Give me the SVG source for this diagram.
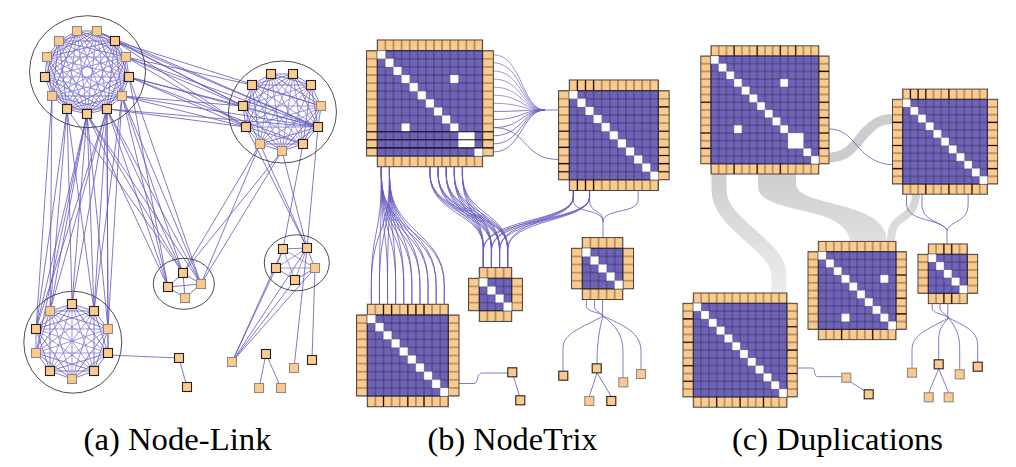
<svg xmlns="http://www.w3.org/2000/svg" width="1016" height="467" viewBox="0 0 1016 467">
<defs>
<style>
.e{fill:none;stroke:#6459bd;stroke-width:.9;stroke-opacity:.9}
.el{fill:none;stroke:#8b84cf;stroke-width:.85}
.ring{fill:none;stroke:#3a3a3a;stroke-width:.9}
.nd{fill:#fdca8d;stroke:#222;stroke-width:1.1}
.ng{fill:#fdca8d;stroke:#8a8a8a;stroke-width:1.1}
.oh{fill:url(#poh);stroke:#4a423a;stroke-width:1}
.ov{fill:url(#pov);stroke:#4a423a;stroke-width:1}
.p{fill:url(#pp);stroke:#2a2838;stroke-width:1}
.w{fill:#fff;stroke:#b8b8c8;stroke-width:.5}
.k{fill:none;stroke:#111;stroke-width:1.1}
.band{fill:none;stroke:url(#gb)}
.bandf{fill:url(#gb)}
.lbl{font-family:'Liberation Serif','Tinos','Times New Roman','DejaVu Serif',serif;font-size:32.5px;fill:#000;text-anchor:middle}
</style>
<pattern id="pp" width="8" height="8" patternUnits="userSpaceOnUse"><rect width="8" height="8" fill="#6f63b9"/><path d="M0,0H8M0,8H8M0,0V8M8,0V8" fill="none" stroke="#39345c" stroke-width=".8"/></pattern>
<pattern id="poh" width="8" height="8" patternUnits="userSpaceOnUse"><rect width="8" height="8" fill="#fdca8d"/><path d="M0,0V8M8,0V8" fill="none" stroke="#6e604f" stroke-width="1"/></pattern>
<pattern id="pov" width="8" height="8" patternUnits="userSpaceOnUse"><rect width="8" height="8" fill="#fdca8d"/><path d="M0,0H8M0,8H8" fill="none" stroke="#6e604f" stroke-width="1"/></pattern>
<linearGradient id="gb" gradientUnits="userSpaceOnUse" x1="0" y1="170" x2="0" y2="300"><stop offset="0" stop-color="#cdcdcd"/><stop offset="1" stop-color="#efefef"/></linearGradient>
</defs>
<rect width="1016" height="467" fill="#fff"/>

<g id="connectors">
<path class="band" stroke-width="15" d="M719,172V190C719,225 779,245 779,275V295"/>
<path class="bandf" d="M758,172H796V183C796,195 815,199 835,204C870,213 887,222 887,243H850C850,230 840,222 820,215C785,206 758,202 758,187Z"/>
<path class="band" stroke-width="10" d="M829,157.5C852,157.5 858,138 868,130C876,122 882,119 893,119"/>
<path class="band" stroke-width="8" d="M916,193C916,212 905,215 897,222C892,227 891,233 891,243"/>

<polygon class="e" points="77,31 97,31 115,41 126,57 129,77 122,96 107,109 87,114 67,109 52,96 45,77 47,57 59,41"/>
<polygon class="e" points="77,31 115,41 129,77 107,109 67,109 45,77 59,41 97,31 126,57 122,96 87,114 52,96 47,57"/>
<polygon class="e" points="77,31 126,57 107,109 52,96 59,41 115,41 122,96 67,109 47,57 97,31 129,77 87,114 45,77"/>
<polygon class="e" points="77,31 129,77 67,109 59,41 126,57 87,114 47,57 115,41 107,109 45,77 97,31 122,96 52,96"/>
<polygon class="el" points="77,31 122,96 45,77 115,41 87,114 59,41 129,77 52,96 97,31 107,109 47,57 126,57 67,109"/>
<polygon class="el" points="77,31 107,109 59,41 122,96 47,57 129,77 45,77 126,57 52,96 115,41 67,109 97,31 87,114"/>

<polygon class="e" points="271,74 293,74 311,85 321,106 318,127 303,144 282,151 260,144 246,127 243,106 252,85"/>
<polygon class="e" points="271,74 311,85 318,127 282,151 246,127 252,85 293,74 321,106 303,144 260,144 243,106"/>
<polygon class="e" points="271,74 321,106 282,151 243,106 293,74 318,127 260,144 252,85 311,85 303,144 246,127"/>
<polygon class="el" points="271,74 318,127 246,127 293,74 303,144 243,106 311,85 282,151 252,85 321,106 260,144"/>
<polygon class="el" points="271,74 303,144 252,85 318,127 243,106 321,106 246,127 311,85 260,144 293,74 282,151"/>

<polygon class="e" points="72,304 94,311 108,329 108,353 94,371 72,379 50,371 36,353 36,329 50,311"/>
<polygon class="e" points="72,304 108,353 50,371 50,311 108,329 72,379 36,329 94,311 94,371 36,353"/>
<polygon class="e" points="72,304 108,329 94,371 50,371 36,329"/>
<polygon class="e" points="94,311 108,353 72,379 36,353 50,311"/>
<polygon class="el" points="72,304 94,371 36,329 108,329 50,371"/>
<polygon class="el" points="94,311 72,379 50,311 108,353 36,353"/>
<path class="el" d="M72,304L72,379M94,311L50,371M108,329L36,353M108,353L36,329M94,371L50,311"/>

<polygon class="e" points="183,273 201,284 185,298 168,287"/>
<path class="e" d="M183,273L185,298M201,284L168,287"/>
<polygon class="e" points="283,249 307,248 315,268 295,280 276,268"/>
<polygon class="el" points="283,249 315,268 276,268 307,248 295,280"/>

<path class="e" d="M115,41L243,106M115,41L318,127M115,41L246,127M115,41L321,106M126,57L243,106M126,57L318,127M126,57L246,127M126,57L252,85M129,77L243,106M129,77L318,127M129,77L246,127M129,77L303,144M122,96L243,106M122,96L318,127M122,96L246,127M107,109L318,127M107,109L246,127M97,31L243,106M97,31L318,127"/>
<path class="e" d="M87,114L72,304M87,114L50,311M87,114L94,311M87,114L36,329M87,114L108,329M87,114L36,353M107,109L72,304M107,109L50,311M107,109L94,311M107,109L36,329M107,109L108,329M107,109L108,353M67,109L50,311M67,109L72,304M67,109L94,311M67,109L36,329M122,96L108,329M122,96L94,311M52,96L50,311M52,96L36,329"/>
<path class="e" d="M107,109L168,287M107,109L183,273M107,109L201,284M87,114L168,287M87,114L183,273M87,114L201,284M122,96L168,287M122,96L183,273M122,96L201,284M129,77L168,287M129,77L201,284M67,109L183,273"/>
<path class="e" d="M260,144L183,273M260,144L201,284M282,151L201,284M282,151L183,273M260,144L307,248M246,127L307,248M318,127L307,248M303,144L283,249M282,151L307,248"/>
<path class="e" d="M232,362L295,280M232,362L315,268M232,362L307,248M232,362L283,249M232,362L276,268M294,368L307,248M312,360L315,268M266,354L259,388M266,354L281,388M108,355L179,358M179,358L187,387"/>

<path class="el" d="M493.5,54.75C522,54.75 522,110 545,110M493.5,62.85C522,62.85 522,110 545,110M493.5,70.95C522,70.95 522,110 545,110M493.5,79.05C522,79.05 522,110 545,110M493.5,87.15C522,87.15 522,110 545,110M493.5,95.25C522,95.25 522,110 545,110M493.5,103.35C522,103.35 522,110 545,110"/>
<path class="e" d="M493.5,111.45C522,111.45 522,110 545,110M493.5,119.55C522,119.55 522,110 545,110M493.5,127.65C522,127.65 522,110 545,110M493.5,135.75C522,135.75 522,110 545,110M493.5,143.85C522,143.85 522,110 545,110M493.5,151.95C522,151.95 522,110 545,110M545,110H558.5M493.5,127.65C528,127.65 522,159.5 558.5,159.5"/>
<path class="e" d="M381.35,166.7V176C381.35,235 371.35,230 371.35,285V304.3M381.35,166.7V176C381.35,235 379.45,230 379.45,285V304.3M381.35,166.7V176C381.35,235 387.55,230 387.55,285V304.3M381.35,166.7V176C381.35,235 395.65,230 395.65,285V304.3M381.35,166.7V176C381.35,235 403.75,230 403.75,285V304.3M381.35,166.7V176C381.35,235 411.85,230 411.85,285V304.3M381.35,166.7V176C381.35,235 419.95,230 419.95,285V304.3M381.35,166.7V176C381.35,235 428.05,230 428.05,285V304.3M381.35,166.7V176C381.35,235 436.15,230 436.15,285V304.3M381.35,166.7V176C381.35,235 444.25,230 444.25,285V304.3"/>
<path class="e" d="M389.45,166.7V176C389.45,235 371.35,230 371.35,285V304.3M389.45,166.7V176C389.45,235 379.45,230 379.45,285V304.3M389.45,166.7V176C389.45,235 387.55,230 387.55,285V304.3M389.45,166.7V176C389.45,235 395.65,230 395.65,285V304.3M389.45,166.7V176C389.45,235 403.75,230 403.75,285V304.3M389.45,166.7V176C389.45,235 411.85,230 411.85,285V304.3M389.45,166.7V176C389.45,235 419.95,230 419.95,285V304.3M389.45,166.7V176C389.45,235 428.05,230 428.05,285V304.3M389.45,166.7V176C389.45,235 436.15,230 436.15,285V304.3M389.45,166.7V176C389.45,235 444.25,230 444.25,285V304.3"/>
<path class="e" d="M429.95,166.7V174C429.95,215 483.35,212 483.35,248V267.6M429.95,166.7V174C429.95,215 491.45,212 491.45,248V267.6M429.95,166.7V174C429.95,215 499.55,212 499.55,248V267.6M429.95,166.7V174C429.95,215 507.65,212 507.65,248V267.6M438.05,166.7V174C438.05,215 483.35,212 483.35,248V267.6M438.05,166.7V174C438.05,215 491.45,212 491.45,248V267.6M438.05,166.7V174C438.05,215 499.55,212 499.55,248V267.6M438.05,166.7V174C438.05,215 507.65,212 507.65,248V267.6M446.15,166.7V174C446.15,215 483.35,212 483.35,248V267.6M446.15,166.7V174C446.15,215 491.45,212 491.45,248V267.6M446.15,166.7V174C446.15,215 499.55,212 499.55,248V267.6M446.15,166.7V174C446.15,215 507.65,212 507.65,248V267.6M454.25,166.7V174C454.25,215 483.35,212 483.35,248V267.6M454.25,166.7V174C454.25,215 491.45,212 491.45,248V267.6M454.25,166.7V174C454.25,215 499.55,212 499.55,248V267.6M454.25,166.7V174C454.25,215 507.65,212 507.65,248V267.6M462.35,166.7V174C462.35,215 483.35,212 483.35,248V267.6M462.35,166.7V174C462.35,215 491.45,212 491.45,248V267.6M462.35,166.7V174C462.35,215 499.55,212 499.55,248V267.6M462.35,166.7V174C462.35,215 507.65,212 507.65,248V267.6"/>
<path class="e" d="M573.35,190.5V197C573.35,222 483.35,218 483.35,250V267.6M573.35,190.5V197C573.35,222 491.45,218 491.45,250V267.6M573.35,190.5V197C573.35,222 499.55,218 499.55,250V267.6M573.35,190.5V197C573.35,222 507.65,218 507.65,250V267.6M589.55,190.5V197C589.55,222 483.35,218 483.35,250V267.6M589.55,190.5V197C589.55,222 491.45,218 491.45,250V267.6M589.55,190.5V197C589.55,222 499.55,218 499.55,250V267.6M589.55,190.5V197C589.55,222 507.65,218 507.65,250V267.6"/>
<path class="e" d="M573.35,190.5V200C573.35,214 603,208 603,222M589.55,190.5V200C589.55,214 603,208 603,222M638.15,190.5V200C638.15,214 603,208 603,222M603,222V237.6"/>
<path class="e" d="M586.35,299.5V306C586.35,312 600,312 603,316M594.45,299.5V306C594.45,312 601,312 603,316M602.55,299.5V316M603,316C582,328 563,333 563,348V371.2M603,316C599,330 597,345 597,363.8M603,316C616,326 623,335 623,352V377.8M603,316C630,328 641,335 641,352V369.5M597,372.8L589.3,396.5M597,372.8L611.3,396.5"/>
<path class="e" d="M459,383.5H474C479,383.5 476,373 482,373H508M513.5,376.8L519.5,395.8"/>

<path class="e" d="M829,129C850,129 855,148 869,157C878,163 885,164.5 892.5,164.5"/>
<path class="e" d="M906.55,194.2V204C906.55,222 940,218 947,230M921.95,194.2V204C921.95,222 940,220 947,230M968.15,194.2V204C968.15,222 952,220 947,230M947,230V244"/>
<path class="e" d="M932.2,303.6V308C932.2,314 945,314 948.7,318M940,303.6V308C940,313 947,314 948.7,318M947.8,303.6V318M948.7,318C926,330 912,335 912,350V368.2M948.7,318C941,326 938.7,331 938.7,340V359.8M948.7,318C956,328 959.7,335 959.7,348V369.8M948.7,318C970,328 977.7,333 977.7,346V362.2M938.7,368.8L928.7,392.8M938.7,368.8L948.7,392.8"/>
<path class="e" d="M797.2,368H812C816,368 813,376.7 818,376.7H841.8M849,381L865,391"/>
</g>

<g id="clusterA">
<ellipse class="ring" cx="87.5" cy="71.7" rx="58" ry="56"/>
<rect class="ng" x="72.5" y="26.5" width="9" height="9"/><rect class="ng" x="92.5" y="26.5" width="9" height="9"/><rect class="nd" x="110.5" y="36.5" width="9" height="9"/><rect class="ng" x="121.5" y="52.5" width="9" height="9"/><rect class="nd" x="124.5" y="72.5" width="9" height="9"/><rect class="ng" x="117.5" y="91.5" width="9" height="9"/><rect class="nd" x="102.5" y="104.5" width="9" height="9"/><rect class="nd" x="82.5" y="109.5" width="9" height="9"/><rect class="nd" x="62.5" y="104.5" width="9" height="9"/><rect class="ng" x="47.5" y="91.5" width="9" height="9"/><rect class="nd" x="40.5" y="72.5" width="9" height="9"/><rect class="ng" x="42.5" y="52.5" width="9" height="9"/><rect class="ng" x="54.5" y="36.5" width="9" height="9"/>
</g>
<g id="clusterB">
<ellipse class="ring" cx="282.5" cy="112" rx="54" ry="51"/>
<rect class="nd" x="266.5" y="69.5" width="9" height="9"/><rect class="nd" x="288.5" y="69.5" width="9" height="9"/><rect class="nd" x="306.5" y="80.5" width="9" height="9"/><rect class="ng" x="316.5" y="101.5" width="9" height="9"/><rect class="nd" x="313.5" y="122.5" width="9" height="9"/><rect class="nd" x="298.5" y="139.5" width="9" height="9"/><rect class="ng" x="277.5" y="146.5" width="9" height="9"/><rect class="ng" x="255.5" y="139.5" width="9" height="9"/><rect class="nd" x="241.5" y="122.5" width="9" height="9"/><rect class="nd" x="238.5" y="101.5" width="9" height="9"/><rect class="nd" x="247.5" y="80.5" width="9" height="9"/>
</g>
<g id="clusterC">
<ellipse class="ring" cx="183.8" cy="283.8" rx="30.5" ry="25.5"/>
<rect class="nd" x="178.5" y="268.5" width="9" height="9"/><rect class="ng" x="196.5" y="279.5" width="9" height="9"/><rect class="ng" x="180.5" y="293.5" width="9" height="9"/><rect class="nd" x="163.5" y="282.5" width="9" height="9"/>
</g>
<g id="clusterD">
<ellipse class="ring" cx="296.8" cy="262.8" rx="32.5" ry="28"/>
<rect class="nd" x="278.5" y="244.5" width="9" height="9"/><rect class="nd" x="302.5" y="243.5" width="9" height="9"/><rect class="ng" x="310.5" y="263.5" width="9" height="9"/><rect class="nd" x="290.5" y="275.5" width="9" height="9"/><rect class="nd" x="271.5" y="263.5" width="9" height="9"/>
</g>
<g id="clusterE">
<ellipse class="ring" cx="72.8" cy="342.2" rx="49" ry="51"/>
<rect class="nd" x="67.5" y="299.5" width="9" height="9"/><rect class="nd" x="89.5" y="306.5" width="9" height="9"/><rect class="ng" x="103.5" y="324.5" width="9" height="9"/><rect class="nd" x="103.5" y="348.5" width="9" height="9"/><rect class="nd" x="89.5" y="366.5" width="9" height="9"/><rect class="ng" x="67.5" y="374.5" width="9" height="9"/><rect class="nd" x="45.5" y="366.5" width="9" height="9"/><rect class="ng" x="31.5" y="348.5" width="9" height="9"/><rect class="nd" x="31.5" y="324.5" width="9" height="9"/><rect class="ng" x="45.5" y="306.5" width="9" height="9"/>
</g>
<g id="leavesA">
<rect class="nd" x="174.5" y="353.5" width="9" height="9"/><rect class="nd" x="182.5" y="382.5" width="9" height="9"/><rect class="ng" x="227.5" y="357.5" width="9" height="9"/><rect class="nd" x="261.5" y="349.5" width="9" height="9"/><rect class="ng" x="254.5" y="383.5" width="9" height="9"/><rect class="ng" x="276.5" y="383.5" width="9" height="9"/><rect class="ng" x="289.5" y="363.5" width="9" height="9"/><rect class="nd" x="307.5" y="355.5" width="9" height="9"/>
</g>

<g id="m1" transform="translate(377.3,50.7) scale(1.0125)">
<rect class="oh" x="0" y="-10.6" width="104" height="10.6"/><rect class="oh" x="0" y="104" width="104" height="10.6"/><rect class="ov" x="-10.6" y="0" width="10.6" height="104"/><rect class="ov" x="104" y="0" width="10.6" height="104"/><rect class="p" width="104" height="104"/>
<path class="w" d="M0,0h8v8h-8zM8,8h8v8h-8zM16,16h8v8h-8zM24,24h8v8h-8zM32,32h8v8h-8zM40,40h8v8h-8zM48,48h8v8h-8zM56,56h8v8h-8zM64,64h8v8h-8zM72,72h8v8h-8zM80,80h16v16h-16zM96,96h8v8h-8zM72,24h8v8h-8zM24,72h8v8h-8z"/>
<path class="k" d="M-10.6,80H114.6M-10.6,88H114.6M-10.6,96H114.6"/>
</g>
<g id="m2" transform="translate(569.3,90.7) scale(1.0125)">
<rect class="oh" x="0" y="-10.6" width="88" height="10.6"/><rect class="oh" x="0" y="88" width="88" height="10.6"/><rect class="ov" x="-10.6" y="0" width="10.6" height="88"/><rect class="ov" x="88" y="0" width="10.6" height="88"/><rect class="p" width="88" height="88"/>
<path class="w" d="M0,0h8v8h-8zM8,8h8v8h-8zM16,16h8v8h-8zM24,24h8v8h-8zM32,32h8v8h-8zM40,40h8v8h-8zM48,48h8v8h-8zM56,56h8v8h-8zM64,64h8v8h-8zM72,72h8v8h-8zM80,80h8v8h-8z"/>
<path class="k" d="M8,-10.6V0M16,-10.6V0M24,-10.6V0M8,88V98.6M16,88V98.6M24,88V98.6M-10.6,40H0M-10.6,56H0M-10.6,72H0M-10.6,80H0M88,16H98.6M88,40H98.6M88,56H98.6M88,64H98.6M88,72H98.6M88,80H98.6"/>
</g>
<g id="m3" transform="translate(479.3,278.3) scale(1.0125)">
<rect class="oh" x="0" y="-10.6" width="32" height="10.6"/><rect class="oh" x="0" y="32" width="32" height="10.6"/><rect class="ov" x="-10.6" y="0" width="10.6" height="32"/><rect class="ov" x="32" y="0" width="10.6" height="32"/><rect class="p" width="32" height="32"/>
<path class="w" d="M0,0h8v8h-8zM8,8h8v8h-8zM16,16h8v8h-8zM24,24h8v8h-8z"/>
</g>
<g id="m4" transform="translate(582.3,248.3) scale(1.0125)">
<rect class="oh" x="0" y="-10.6" width="40" height="10.6"/><rect class="oh" x="0" y="40" width="40" height="10.6"/><rect class="ov" x="-10.6" y="0" width="10.6" height="40"/><rect class="ov" x="40" y="0" width="10.6" height="40"/><rect class="p" width="40" height="40"/>
<path class="w" d="M0,0h8v8h-8zM8,8h8v8h-8zM16,16h8v8h-8zM24,24h8v8h-8zM32,32h8v8h-8z"/>
</g>
<g id="m5" transform="translate(367.3,315) scale(1.0125)">
<rect class="oh" x="0" y="-10.6" width="80" height="10.6"/><rect class="oh" x="0" y="80" width="80" height="10.6"/><rect class="ov" x="-10.6" y="0" width="10.6" height="80"/><rect class="ov" x="80" y="0" width="10.6" height="80"/><rect class="p" width="80" height="80"/>
<path class="w" d="M0,0h8v8h-8zM8,8h8v8h-8zM16,16h8v8h-8zM24,24h8v8h-8zM32,32h8v8h-8zM40,40h8v8h-8zM48,48h8v8h-8zM56,56h8v8h-8zM64,64h8v8h-8zM72,72h8v8h-8z"/>
<path class="k" d="M16,-10.6V0M24,-10.6V0M40,-10.6V0M48,-10.6V0M56,-10.6V0M16,80V90.6M40,80V90.6M56,80V90.6"/>
</g>
<g id="leavesB">
<rect class="nd" x="507.8" y="367.8" width="9" height="9"/><rect class="nd" x="515.8" y="395.8" width="9" height="9"/><rect class="nd" x="558.8" y="371.2" width="9" height="9"/><rect class="nd" x="592.2" y="363.8" width="9" height="9"/><rect class="ng" x="584.8" y="396.5" width="9" height="9"/><rect class="nd" x="606.8" y="396.5" width="9" height="9"/><rect class="ng" x="618.8" y="377.8" width="9" height="9"/><rect class="ng" x="636.5" y="369.5" width="9" height="9"/>
</g>

<g id="c1" transform="translate(711,56) scale(0.9625)">
<rect class="oh" x="0" y="-10.6" width="112" height="10.6"/><rect class="oh" x="0" y="112" width="112" height="10.6"/><rect class="ov" x="-10.6" y="0" width="10.6" height="112"/><rect class="ov" x="112" y="0" width="10.6" height="112"/><rect class="p" width="112" height="112"/>
<path class="w" d="M0,0h8v8h-8zM8,8h8v8h-8zM16,16h8v8h-8zM24,24h8v8h-8zM32,32h8v8h-8zM40,40h8v8h-8zM48,48h8v8h-8zM56,56h8v8h-8zM64,64h8v8h-8zM72,72h8v8h-8zM80,80h16v16h-16zM96,96h8v8h-8zM104,104h8v8h-8zM72,24h8v8h-8zM24,72h8v8h-8z"/>
<path class="k" d="M24,-10.6V0M48,-10.6V0M72,-10.6V0M88,-10.6V0M24,112V122.6M48,112V122.6M72,112V122.6M-10.6,48H0M-10.6,80H0M-10.6,96H0M112,16H122.6M112,48H122.6M112,64H122.6M112,80H122.6M112,96H122.6"/>
</g>
<g id="c2" transform="translate(902.7,99.3) scale(0.9625)">
<rect class="oh" x="0" y="-10.6" width="88" height="10.6"/><rect class="oh" x="0" y="88" width="88" height="10.6"/><rect class="ov" x="-10.6" y="0" width="10.6" height="88"/><rect class="ov" x="88" y="0" width="10.6" height="88"/><rect class="p" width="88" height="88"/>
<path class="w" d="M0,0h8v8h-8zM8,8h8v8h-8zM16,16h8v8h-8zM24,24h8v8h-8zM32,32h8v8h-8zM40,40h8v8h-8zM48,48h8v8h-8zM56,56h8v8h-8zM64,64h8v8h-8zM72,72h8v8h-8zM80,80h8v8h-8z"/>
<path class="k" d="M8,-10.6V0M16,-10.6V0M24,-10.6V0M48,-10.6V0M24,88V98.6M48,88V98.6M72,88V98.6M-10.6,24H0M-10.6,48H0M-10.6,72H0M88,24H98.6M88,48H98.6M88,72H98.6"/>
</g>
<g id="c3" transform="translate(818.3,251.7) scale(0.971)">
<rect class="oh" x="0" y="-10.6" width="80" height="10.6"/><rect class="oh" x="0" y="80" width="80" height="10.6"/><rect class="ov" x="-10.6" y="0" width="10.6" height="80"/><rect class="ov" x="80" y="0" width="10.6" height="80"/><rect class="p" width="80" height="80"/>
<path class="w" d="M0,0h8v8h-8zM8,8h8v8h-8zM16,16h8v8h-8zM24,24h8v8h-8zM32,32h8v8h-8zM40,40h8v8h-8zM48,48h8v8h-8zM56,56h8v8h-8zM64,64h8v8h-8zM72,72h8v8h-8zM64,24h8v8h-8zM24,64h8v8h-8z"/>
<path class="k" d="M80,24H90.6M80,48H90.6M80,64H90.6M24,80V90.6M56,80V90.6"/>
</g>
<g id="c4" transform="translate(928.3,254.3) scale(0.975)">
<rect class="oh" x="0" y="-10.6" width="40" height="10.6"/><rect class="oh" x="0" y="40" width="40" height="10.6"/><rect class="ov" x="-10.6" y="0" width="10.6" height="40"/><rect class="ov" x="40" y="0" width="10.6" height="40"/><rect class="p" width="40" height="40"/>
<path class="w" d="M0,0h8v8h-8zM8,8h8v8h-8zM16,16h8v8h-8zM24,24h8v8h-8zM32,32h8v8h-8z"/>
<path class="k" d="M16,-10.6V0M24,-10.6V0M16,40V50.6M24,40V50.6"/>
</g>
<g id="c5" transform="translate(693.3,303.3) scale(0.975)">
<rect class="oh" x="0" y="-10.6" width="96" height="10.6"/><rect class="oh" x="0" y="96" width="96" height="10.6"/><rect class="ov" x="-10.6" y="0" width="10.6" height="96"/><rect class="ov" x="96" y="0" width="10.6" height="96"/><rect class="p" width="96" height="96"/>
<path class="w" d="M0,0h8v8h-8zM8,8h8v8h-8zM16,16h8v8h-8zM24,24h8v8h-8zM32,32h8v8h-8zM40,40h8v8h-8zM48,48h8v8h-8zM56,56h8v8h-8zM64,64h8v8h-8zM72,72h8v8h-8zM80,80h8v8h-8zM88,88h8v8h-8z"/>
<path class="k" d="M-10.6,16H0M-10.6,40H0M-10.6,64H0M-10.6,80H0M96,24H106.6M96,48H106.6M96,72H106.6M24,96V106.6M48,96V106.6M72,96V106.6"/>
</g>
<g id="leavesC">
<rect class="ng" x="841.8" y="373.2" width="9" height="9"/><rect class="nd" x="864.2" y="389.8" width="9" height="9"/><rect class="ng" x="907.5" y="368.2" width="9" height="9"/><rect class="nd" x="934.2" y="359.8" width="9" height="9"/><rect class="ng" x="924.2" y="392.8" width="9" height="9"/><rect class="ng" x="944.2" y="392.8" width="9" height="9"/><rect class="ng" x="955.2" y="369.8" width="9" height="9"/><rect class="nd" x="973.2" y="362.2" width="9" height="9"/>
</g>

<g id="labels">
<text class="lbl" x="177.5" y="450" textLength="188" lengthAdjust="spacingAndGlyphs">(a) Node-Link</text>
<text class="lbl" x="512.5" y="450" textLength="170" lengthAdjust="spacingAndGlyphs">(b) NodeTrix</text>
<text class="lbl" x="837.5" y="450" textLength="211" lengthAdjust="spacingAndGlyphs">(c) Duplications</text>
</g>
</svg>
